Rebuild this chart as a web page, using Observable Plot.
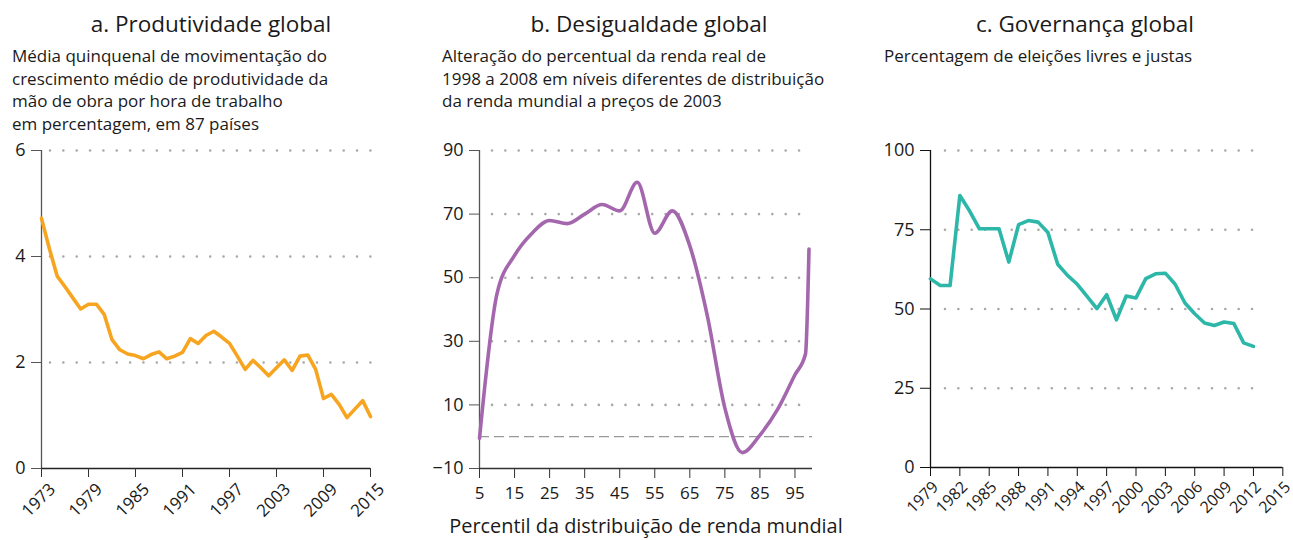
<!DOCTYPE html>
<html><head><meta charset="utf-8">
<script src="https://cdn.jsdelivr.net/npm/d3@7"></script>
<script src="https://cdn.jsdelivr.net/npm/@observablehq/plot@0.6"></script>
<style>
body{margin:0;width:1293px;height:540px;position:relative;background:#fff;font-family:"Open Sans",Lato,sans-serif;color:#1a1a1a;overflow:hidden}
.t{position:absolute;font-size:22.5px;text-align:center;white-space:nowrap;top:8px;width:400px}
.s{position:absolute;font-size:17px;line-height:22.5px;white-space:nowrap;top:45px}
.p{position:absolute;top:0}
.p svg{overflow:visible}
.xl{position:absolute;font-size:19.9px;line-height:24px;white-space:nowrap;top:514px;left:406px;width:480px;text-align:center}
</style></head><body>
<div class="t" style="left:11px">a. Produtividade global</div>
<div class="s" style="left:12px">Média quinquenal de movimentação do<br>crescimento médio de produtividade da<br>mão de obra por hora de trabalho<br>em percentagem, em 87 países</div>
<div class="t" style="left:449px">b. Desigualdade global</div>
<div class="s" style="left:442px">Alteração do percentual da renda real de<br>1998 a 2008 em níveis diferentes de distribuição<br>da renda mundial a preços de 2003</div>
<div class="t" style="left:885px">c. Governança global</div>
<div class="s" style="left:884px">Percentagem de eleições livres e justas</div>
<div class="xl">Percentil da distribuição de renda mundial</div>
<div id="a" class="p" style="left:0"></div>
<div id="b" class="p" style="left:420px"></div>
<div id="c" class="p" style="left:870px"></div>
<script>
// Panel a: productivity
const yearsA = [1973,1974,1975,1976,1977,1978,1979,1980,1981,1982,1983,1984,1985,1986,1987,1988,1989,1990,1991,1992,1993,1994,1995,1996,1997,1998,1999,2000,2001,2002,2003,2004,2005,2006,2007,2008,2009,2010,2011,2012,2013,2014,2015];
const prodValues = [4.72,4.15,3.63,3.43,3.22,3.01,3.10,3.10,2.91,2.43,2.24,2.16,2.13,2.07,2.15,2.20,2.07,2.12,2.19,2.45,2.36,2.51,2.59,2.48,2.36,2.12,1.87,2.04,1.90,1.75,1.90,2.05,1.85,2.12,2.14,1.87,1.32,1.40,1.21,0.96,1.12,1.28,0.98];
const ticksA = [1973,1979,1985,1991,1997,2003,2009,2015];
const yTicksA = [0,2,4,6];

// Panel b: inequality (elephant curve)
const pctB = [5,10,15,20,25,30,35,40,45,50,55,60,65,70,75,80,85,90,95,98,99];
const changeB = [-0.5,45,57,64,68,67,70,73,71,80,64,71,60,38,9,-5,0.5,8.5,19.5,26,59];
const ticksB = [5,15,25,35,45,55,65,75,85,95];
const yTicksB = [-10,10,30,50,70,90];

// Panel c: governance
const yearsC = [1979,1980,1981,1982,1983,1984,1985,1986,1987,1988,1989,1990,1991,1992,1993,1994,1995,1996,1997,1998,1999,2000,2001,2002,2003,2004,2005,2006,2007,2008,2009,2010,2011,2012];
const freeC = [59.5,57.4,57.4,85.8,80.9,75.3,75.3,75.3,64.8,76.6,77.9,77.4,74.1,64.1,60.6,57.8,54,50.1,54.5,46.6,54.1,53.5,59.6,61.1,61.3,57.8,51.9,48.5,45.6,44.8,45.9,45.4,39.3,38.2];
const ticksC = [1979,1982,1985,1988,1991,1994,1997,2000,2003,2006,2009,2012,2015];
const yTicksC = [0,25,50,75,100];

const dataA = yearsA.map((y,i)=>({x:y,v:prodValues[i]}));
const dataB = pctB.map((p,i)=>({x:p,v:changeB[i]}));
const dataC = yearsC.map((y,i)=>({x:y,v:freeC[i]}));

const font = "'Open Sans', Lato, sans-serif";
const fmt = d => String(d);
const none = () => "";
const grid = (vals, l, r) => Plot.ruleY(vals, {stroke:"#a8a8a8", strokeWidth:2.6, strokeDasharray:"0,13.35", strokeLinecap:"round", insetLeft:l, insetRight:r});

const plotA = Plot.plot({
  width:400, height:540, marginLeft:41, marginRight:30, marginTop:150, marginBottom:72,
  style:{fontFamily:font, fontSize:"16px", color:"#1a1a1a", overflow:"visible"},
  x:{domain:[1973,2015]}, y:{domain:[0,6]},
  marks:[
    grid([2,4,6], 9, -3),
    Plot.ruleX([yearsA[0]], {stroke:"#555", strokeWidth:1.3}),
    Plot.ruleY([yTicksA[0]], {stroke:"#222", strokeWidth:1.3}),
    Plot.axisY(yTicksA, {tickSize:10, tickPadding:6, fontSize:18, tickFormat:fmt, stroke:"#555", label:null}),
    Plot.axisX(ticksA, {tickSize:9, tickFormat:none, stroke:"#333", label:null}),
    Plot.axisX(ticksA, {tickSize:0, tickPadding:13, tickRotate:-45, fontSize:17, tickFormat:fmt, dx:11, dy:5, label:null}),
    Plot.line(dataA, {x:"x", y:"v", stroke:"#F7A520", strokeWidth:3.6, strokeLinejoin:"round"})
  ]
});
document.getElementById("a").append(plotA);

const plotB = Plot.plot({
  width:420, height:540, marginLeft:59, marginRight:28, marginTop:150, marginBottom:72,
  style:{fontFamily:font, fontSize:"16px", color:"#1a1a1a", overflow:"visible"},
  x:{domain:[5,100]}, y:{domain:[-10,90]},
  marks:[
    grid([10,30,50,70,90], 13, 10),
    Plot.ruleY([0], {stroke:"#999", strokeWidth:1.2, strokeDasharray:"10,5"}),
    Plot.ruleX([pctB[0]], {stroke:"#555", strokeWidth:1.3}),
    Plot.ruleY([yTicksB[0]], {stroke:"#333", strokeWidth:1.3}),
    Plot.axisY(yTicksB, {tickSize:10, tickPadding:6, fontSize:18, tickFormat:d => d < 0 ? "\u2212" + Math.abs(d) : String(d), stroke:"#555", label:null}),
    Plot.axisX(ticksB, {tickSize:10, tickPadding:8, fontSize:17, tickFormat:fmt, stroke:"#333", label:null}),
    Plot.line(dataB, {x:"x", y:"v", stroke:"#A467AE", strokeWidth:3.6, curve:"monotone-x"})
  ]
});
document.getElementById("b").append(plotB);

const plotC = Plot.plot({
  width:423, height:540, marginLeft:60, marginRight:10.7, marginTop:150, marginBottom:73,
  style:{fontFamily:font, fontSize:"16px", color:"#1a1a1a", overflow:"visible"},
  x:{domain:[1979,2015]}, y:{domain:[0,100]},
  marks:[
    grid([25,50,75,100], 15, 29),
    Plot.ruleX([yearsC[0]], {stroke:"#111", strokeWidth:1.3}),
    Plot.ruleY([yTicksC[0]], {stroke:"#111", strokeWidth:1.3}),
    Plot.axisY(yTicksC, {tickSize:10, tickPadding:6, fontSize:18, tickFormat:fmt, stroke:"#111", label:null}),
    Plot.axisX(ticksC, {tickSize:9, tickFormat:none, stroke:"#111", label:null}),
    Plot.axisX(ticksC, {tickSize:0, tickPadding:12, tickRotate:-45, fontSize:16, tickFormat:fmt, dx:5, dy:5, label:null}),
    Plot.line(dataC, {x:"x", y:"v", stroke:"#2DB7A8", strokeWidth:3.6, strokeLinejoin:"round"})
  ]
});
document.getElementById("c").append(plotC);
</script>
</body></html>
